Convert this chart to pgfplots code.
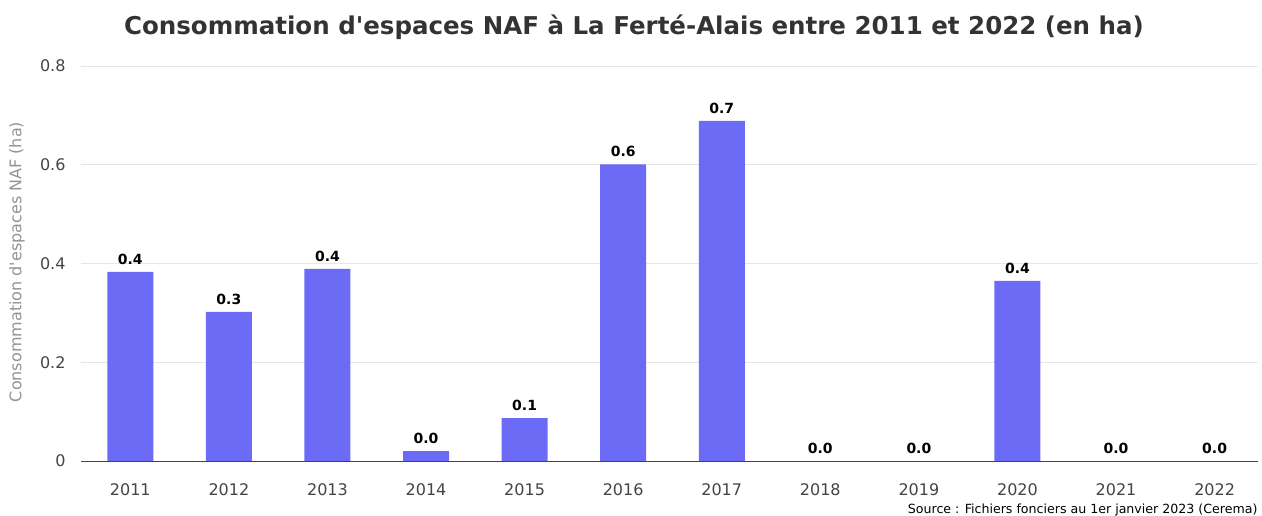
\documentclass[border=0pt]{standalone}
\usepackage{pgfplots}
\pgfplotsset{compat=1.18}
\usepackage{fontspec}
\setmainfont{DejaVu Sans}
\definecolor{barc}{HTML}{6B6BF5}
\definecolor{gridc}{HTML}{E6E6E6}
\definecolor{txt}{HTML}{444444}
\definecolor{ttl}{HTML}{333333}
\begin{document}
\begin{tikzpicture}[x=1pt,y=1pt]
\useasboundingbox (-81,-54) rectangle (1181,461);
\begin{axis}[
  at={(0,0)}, anchor=south west,
  scale only axis, width=1177pt, height=395pt,
  xmin=-0.5, xmax=11.44, ymin=0, ymax=0.8,
  axis line style={draw=none},
  xtick={0,...,11},
  xticklabels={2011,2012,2013,2014,2015,2016,2017,2018,2019,2020,2021,2022},
  ytick={0,0.2,0.4,0.6,0.8},
  yticklabels={0,0.2,0.4,0.6,0.8},
  major tick length=0pt,
  tick label style={font=\fontsize{16}{18}\selectfont, text=txt},
  xticklabel style={yshift=-19pt},
  yticklabel style={xshift=-12pt},
  ymajorgrids, grid style={gridc, line width=0.8pt},
  /pgf/number format/assume math mode=true,
  clip=false,
]
\addplot[ybar, bar width=46pt, fill=barc, draw=none,
  nodes near coords,
  point meta=y,
  every node near coord/.style={font=\bfseries\fontsize{14}{16}\selectfont, text=black, /pgf/number format/fixed, /pgf/number format/precision=1, /pgf/number format/fixed zerofill, yshift=4pt},
] coordinates {
(0,0.383) (1,0.302) (2,0.389) (3,0.020) (4,0.087) (5,0.601) (6,0.689) (7,0) (8,0) (9,0.365) (10,0) (11,0)
};
\draw[txt, line width=1pt] (axis cs:-0.5,0) -- (axis cs:11.44,0);
\end{axis}
\node[font=\bfseries\fontsize{24.5}{28}\selectfont, text=ttl] at (553,434) {Consommation d\textquotesingle espaces NAF à La Ferté-Alais entre 2011 et 2022 (en ha)};
\node[font=\fontsize{16}{18}\selectfont, text=gray!85, rotate=90] at (-64,199) {Consommation d\textquotesingle espaces NAF (ha)};
\node[font=\fontsize{12.6}{14}\selectfont, text=black, anchor=east] at (1180,-49) {Source : Fichiers fonciers au 1er janvier 2023 (Cerema)};
\end{tikzpicture}
\end{document}
